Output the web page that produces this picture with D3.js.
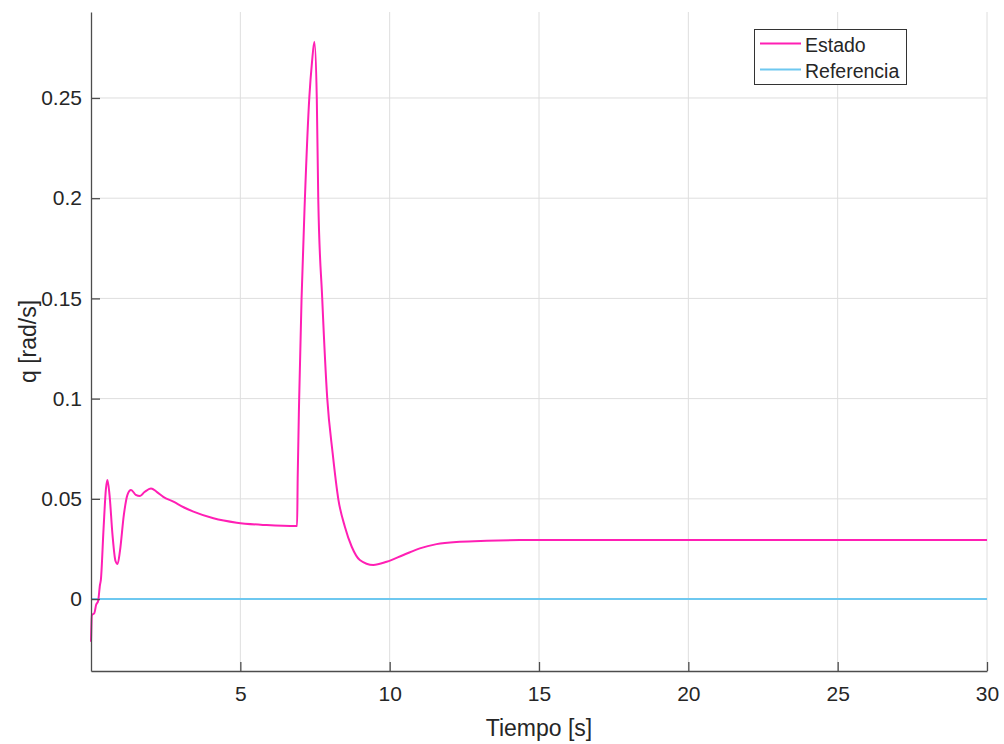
<!DOCTYPE html>
<html>
<head>
<meta charset="utf-8">
<script src="https://cdn.jsdelivr.net/npm/d3@7"></script>
<style>
  html, body { margin: 0; padding: 0; background: #fff; }
  svg { display: block; font-family: Arial, "Liberation Sans", Helvetica, sans-serif; }
</style>
</head>
<body>
<svg id="chart" width="1004" height="744"></svg>
<script>
// Pitch rate response q(t) and its reference
const tiempo = [0, 0.03, 0.11, 0.17, 0.24, 0.3, 0.33, 0.42, 0.5, 0.55, 0.62, 0.72, 0.82, 0.89, 0.97,
  1.1, 1.22, 1.34, 1.5, 1.64, 1.8, 2.01, 2.2, 2.42, 2.76, 3.1, 3.43, 4.1, 4.88, 5.88, 6.9,
  6.92, 6.97, 7.05, 7.16, 7.31, 7.4, 7.48, 7.56, 7.61, 7.74, 7.91, 8.09, 8.28, 8.5, 8.73,
  9.0, 9.45, 9.9, 10.46, 11.01, 11.57, 12.35, 13.25, 14.36, 16, 20, 25, 30];
const estado = [-0.0213, -0.008, -0.0071, -0.003, -0.0008, 0.007, 0.0095, 0.035, 0.055, 0.0594, 0.052, 0.032, 0.019, 0.0175, 0.024,
  0.042, 0.052, 0.0544, 0.052, 0.0514, 0.0535, 0.0552, 0.0535, 0.051, 0.0486, 0.0458, 0.0436, 0.0403, 0.0381, 0.0369, 0.0364,
  0.06, 0.1, 0.15, 0.199, 0.2503, 0.2680, 0.278, 0.25, 0.199, 0.1505, 0.1001, 0.0729, 0.0499, 0.0361, 0.0261,
  0.0195, 0.017, 0.0186, 0.022, 0.0253, 0.0274, 0.0286, 0.0291, 0.0294, 0.0295, 0.0295, 0.0295, 0.0295];
const tiempoRef = [0, 30];
const referencia = [0, 0];

const xTicks = [5, 10, 15, 20, 25, 30];
const yTicks = [0, 0.05, 0.1, 0.15, 0.2, 0.25];
const yTickLabels = ["0", "0.05", "0.1", "0.15", "0.2", "0.25"];
const seriesNames = ["Estado", "Referencia"];
const seriesColors = ["#ff1fb4", "#6ec8f0"];

const svg = d3.select("#chart");
const margin = { left: 91, right: 1004 - 987, top: 12, bottom: 744 - 671 };
const W = 1004, H = 744;

const x = d3.scaleLinear().domain([0, 30]).range([margin.left, W - margin.right]);
const y = d3.scaleLinear().domain([-0.0359, 0.2929]).range([H - margin.bottom, margin.top]);

const axisColor = "#4d4d4d";
const textColor = "#262626";
const gridColor = "#dedede";

// grid
const grid = svg.append("g");
grid.selectAll("line.gx").data(xTicks).enter().append("line")
  .attr("x1", d => x(d)).attr("x2", d => x(d))
  .attr("y1", y.range()[0]).attr("y2", y.range()[1])
  .attr("stroke", gridColor).attr("stroke-width", 1);
grid.selectAll("line.gy").data(yTicks).enter().append("line")
  .attr("y1", d => y(d)).attr("y2", d => y(d))
  .attr("x1", x.range()[0]).attr("x2", x.range()[1])
  .attr("stroke", gridColor).attr("stroke-width", 1);

// series
const line = d3.line().x(d => x(d[0])).y(d => y(d[1])).curve(d3.curveMonotoneX);
svg.append("path")
  .datum(tiempoRef.map((t, i) => [t, referencia[i]]))
  .attr("d", line).attr("fill", "none")
  .attr("stroke", seriesColors[1]).attr("stroke-width", 2);
svg.append("path")
  .datum(tiempo.map((t, i) => [t, estado[i]]))
  .attr("d", line).attr("fill", "none")
  .attr("stroke", seriesColors[0]).attr("stroke-width", 2)
  .attr("stroke-linejoin", "round");

// axes
const xAxis = d3.axisBottom(x).tickValues(xTicks).tickSizeInner(-9).tickSizeOuter(0).tickPadding(15)
  .tickFormat(d3.format("d"));
const gx = svg.append("g").attr("transform", `translate(0,${y.range()[0]})`).call(xAxis);
const yAxis = d3.axisLeft(y).tickValues(yTicks).tickSizeInner(-9).tickSizeOuter(0).tickPadding(9)
  .tickFormat((d, i) => yTickLabels[i]);
const gy = svg.append("g").attr("transform", `translate(${x.range()[0]},0)`).call(yAxis);

[gx, gy].forEach(g => {
  g.select(".domain").attr("stroke", axisColor).attr("stroke-width", 1.3);
  g.selectAll(".tick line").attr("stroke", axisColor).attr("stroke-width", 1.3);
  g.selectAll(".tick text").attr("fill", textColor).style("font-size", "21px")
    .style("font-family", "Arial, 'Liberation Sans', sans-serif");
});
gx.selectAll(".tick text").attr("dy", "0.71em");

// axis titles
svg.append("text").attr("x", (x.range()[0] + x.range()[1]) / 2).attr("y", 736)
  .attr("text-anchor", "middle").attr("fill", textColor).style("font-size", "23px")
  .text("Tiempo [s]");
svg.append("text")
  .attr("transform", `translate(36,${(y.range()[0] + y.range()[1]) / 2}) rotate(-90)`)
  .attr("text-anchor", "middle").attr("fill", textColor).style("font-size", "23px")
  .text("q [rad/s]");

// legend
const lg = svg.append("g");
lg.append("rect").attr("x", 754.5).attr("y", 29.5).attr("width", 152).attr("height", 55)
  .attr("fill", "#fff").attr("stroke", "#333").attr("stroke-width", 1);
seriesNames.forEach((name, i) => {
  const ly = 43.5 + i * 26;
  lg.append("line").attr("x1", 760).attr("x2", 801).attr("y1", ly).attr("y2", ly)
    .attr("stroke", seriesColors[i]).attr("stroke-width", 2);
  lg.append("text").attr("x", 805).attr("y", ly + 1.5).attr("dy", "0.35em")
    .attr("fill", textColor).style("font-size", "19.5px").text(name);
});
</script>
</body>
</html>
